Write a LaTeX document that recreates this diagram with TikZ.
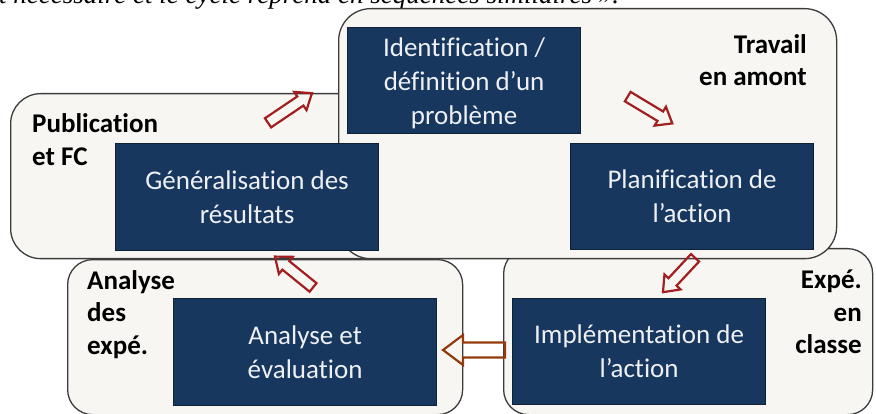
\documentclass[tikz,border=0pt]{standalone}
\usepackage{fontspec}
\setmainfont{Carlito}[Ligatures=NoCommon]
\newfontfamily\serifit{Liberation Serif}
\definecolor{bgfill}{HTML}{F7F6F2}
\definecolor{boxline}{HTML}{3C3C3C}
\definecolor{navyfill}{HTML}{17375E}
\definecolor{navyline}{HTML}{0E2236}
\definecolor{navytext}{HTML}{EEF0F4}
\definecolor{arrred}{HTML}{A31F1F}
\definecolor{arrbrown}{HTML}{943B0E}
\newcommand\blockarrow[7]{%
  \draw[#7, shift={(#1)}, rotate=#2]
    (-#3/2,-#4) -- ({#3/2-#6},-#4) -- ({#3/2-#6},-#5) -- (#3/2,0)
    -- ({#3/2-#6},#5) -- ({#3/2-#6},#4) -- (-#3/2,#4) -- cycle;}
\begin{document}
\begin{tikzpicture}[x=1pt,y=-1pt,
  outer/.style={draw=boxline, line width=1.3pt, fill=bgfill, anchor=north west, inner sep=0pt},
  navy/.style={draw=navyline, line width=1.2pt, fill=navyfill, text=navytext, anchor=north west,
    align=center, inner sep=0pt, font=\fontsize{27}{34}\selectfont},
  lbl/.style={inner sep=0pt, font=\bfseries\fontsize{27}{33}\selectfont, text=black},
  redarr/.style={draw=arrred, line width=2.2pt, line join=miter},
  brownarr/.style={draw=arrbrown, line width=2.2pt, line join=miter}]
\useasboundingbox (0,0) rectangle (876,414);
\fill[white] (0,0) rectangle (876,414);

% clipped running text at the top
\node[anchor=base west, inner sep=0pt, font=\serifit\itshape\fontsize{27}{27}\selectfont] (toptext)
  at (-1,4) {t nécessaire et le cycle reprend en séquences similaires ».};

% outer rounded panels
\node[outer, rounded corners=30pt, minimum width=390pt, minimum height=165pt] (pubbox) at (10,93) {};
\node[outer, rounded corners=25pt, minimum width=395pt, minimum height=155pt] (anabox) at (67,259) {};
\node[outer, rounded corners=25pt, minimum width=369pt, minimum height=166pt] (expbox) at (503,248) {};
\node[outer, rounded corners=32pt, minimum width=498pt, minimum height=250pt] (travbox) at (338,8) {};

% dark blue step boxes
\node[navy, minimum width=233pt, minimum height=106pt] (ident) at (347,27) {};
\node[text=navytext, align=center, inner sep=0pt, font=\fontsize{27}{34}\selectfont]
  (identtext) at ([yshift=-3pt]ident.center) {Identification /\\définition d’un\\problème};
\node[navy, minimum width=243pt, minimum height=106pt] (plan) at (570,143)
  {Planification de\\l’action};
\node[navy, minimum width=263pt, minimum height=107pt] (gen) at (115,143)
  {Généralisation des\\résultats};
\node[navy, minimum width=263pt, minimum height=107pt] (ana) at (173,298)
  {Analyse et\\évaluation};
\node[navy, minimum width=253pt, minimum height=106pt] (impl) at (512,298)
  {Implémentation de\\l’action};

% panel labels
\node[lbl, anchor=base east] (trav1) at (807,54) {Travail};
\node[lbl, anchor=base east] (trav2) at (807,86) {en amont};
\node[lbl, anchor=base west] (pub1) at (32,133) {Publication};
\node[lbl, anchor=base west] (pub2) at (32,166) {et FC};
\node[lbl, anchor=base west] (an1) at (87,290) {Analyse};
\node[lbl, anchor=base west] (an2) at (87,322) {des};
\node[lbl, anchor=base west] (an3) at (87,354) {expé.};
\node[lbl, anchor=base east] (ex1) at (862,288) {Expé.};
\node[lbl, anchor=base east] (ex2) at (862,321) {en};
\node[lbl, anchor=base east] (ex3) at (862,353) {classe};

% block arrows of the cycle
\blockarrow{290,108}{34}{53}{5.5}{11}{14}{redarr}
\blockarrow{650,110}{-31}{52}{5.5}{11}{14}{redarr}
\blockarrow{679,275}{227}{47}{5.5}{11}{14}{redarr}
\blockarrow{474,350}{180}{62}{7.5}{15}{20}{brownarr}
\blockarrow{294,272}{141}{49}{5.5}{11}{14}{redarr}
\end{tikzpicture}
\end{document}
